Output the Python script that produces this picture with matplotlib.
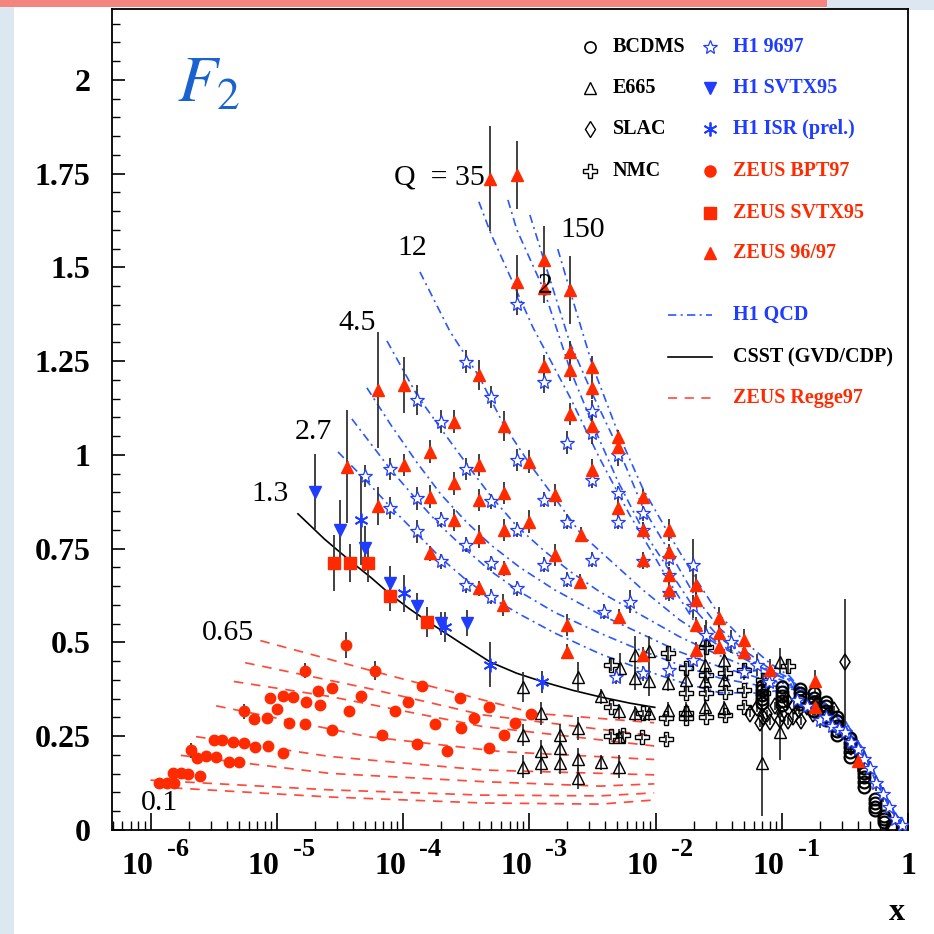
import numpy as np
import matplotlib
matplotlib.use("Agg")
import matplotlib.pyplot as plt
from matplotlib.lines import Line2D
from matplotlib.patches import Rectangle
import matplotlib.transforms as mtransforms
from matplotlib.ticker import LogLocator, MultipleLocator, NullFormatter

plt.rcParams['mathtext.fontset'] = 'stix'
SERIF = "Liberation Serif"
RED = "#ff2a00"
REGGE = "#ff4a3a"
BLUE = "#1f3cff"
QCDBLUE = "#2a56ff"
F2BLUE = "#1a62d0"
EBAR = "#333333"

# ---------------- data (x given as log10(x)) ----------------
# ZEUS BPT97 (red dots)
BPT_LX = [-5.93, -5.87, -5.81,
          -5.82, -5.76, -5.70, -5.61,
          -5.68,
          -5.63, -5.56, -5.48, -5.38, -5.30,
          -5.50, -5.43, -5.35, -5.26, -5.17, -5.07, -4.95,
          -5.26, -5.18, -5.08, -5.00, -4.90, -4.78, -4.56, -4.17, -3.89, -3.65, -3.32,
          -5.05, -4.95, -4.87, -4.77, -4.66, -4.43, -4.06, -3.75, -3.54, -3.20,
          -4.78, -4.67, -4.56, -4.33, -3.96, -3.55, -3.44, -3.32, -3.11, -2.99,
          -4.45, -4.22, -3.85]
BPT_Y = [0.124, 0.124, 0.124,
         0.153, 0.153, 0.150, 0.144,
         0.213,
         0.191, 0.196, 0.195, 0.182, 0.180,
         0.240, 0.239, 0.235, 0.231, 0.222, 0.225, 0.204,
         0.317, 0.297, 0.298, 0.322, 0.284, 0.283, 0.267, 0.253, 0.230, 0.211, 0.218,
         0.351, 0.356, 0.354, 0.342, 0.333, 0.318, 0.317, 0.282, 0.273, 0.253,
         0.424, 0.371, 0.378, 0.356, 0.341, 0.351, 0.298, 0.329, 0.284, 0.308,
         0.493, 0.425, 0.384]
BPT_ERR = [0.005, 0.005, 0.005,
           0.005, 0.005, 0.005, 0.005,
           0.020,
           0.006, 0.006, 0.006, 0.006, 0.006,
           0.006, 0.006, 0.006, 0.006, 0.006, 0.006, 0.008,
           0.020, 0.006, 0.006, 0.012, 0.006, 0.006, 0.008, 0.008, 0.008, 0.008, 0.008,
           0.012, 0.012, 0.008, 0.008, 0.010, 0.008, 0.008, 0.008, 0.008, 0.008,
           0.020, 0.010, 0.010, 0.010, 0.010, 0.010, 0.010, 0.010, 0.010, 0.010,
           0.035, 0.025, 0.012]

# ZEUS SVTX95 (red squares)
ZSVTX_LX = [-4.55, -4.42, -4.28, -4.10, -3.81]
ZSVTX_Y = [0.712, 0.712, 0.712, 0.624, 0.555]
ZSVTX_ERR = [0.075, 0.05, 0.05, 0.04, 0.04]

# H1 SVTX95 (blue down triangles)
HSVTX_LX = [-4.70, -4.50, -4.30, -4.10, -3.89, -3.70, -3.49]
HSVTX_Y = [0.902, 0.800, 0.751, 0.658, 0.596, 0.551, 0.551]
HSVTX_ERR = [0.10, 0.08, 0.06, 0.045, 0.035, 0.03, 0.035]

# H1 ISR prel. (blue asterisks)
HISR_LX = [-4.33, -3.99, -3.67, -3.31, -2.90]
HISR_Y = [0.827, 0.631, 0.542, 0.440, 0.395]
HISR_ERR = [0.12, 0.05, 0.04, 0.06, 0.03]

# ZEUS 96/97 (red triangles)
Z97_LX = [-3.31, -3.10, -2.88, -3.10, -2.88, -2.68, -2.68, -2.68, -2.50, -2.50,
          -2.88, -2.68, -2.50, -2.30, -2.30, -2.50, -2.30, -2.10, -2.10, -1.89,
          -1.89, -1.89, -1.89, -2.10, -3.40, -3.20, -3.00, -2.80, -2.59, -2.60,
          -2.80, -3.00, -3.20, -3.20, -3.20, -3.40, -3.40, -3.40, -3.40, -3.60,
          -3.60, -3.60, -3.79, -3.79, -3.79, -3.99, -3.99, -4.20, -4.20, -4.44,
          -3.21, -2.70, -2.70, -2.29, -2.10, -1.68, -1.68, -1.68, -1.68, -1.50,
          -1.50, -1.50, -1.30, -1.30, -1.09, -0.74, -0.74, -0.40]
Z97_Y = [1.737, 1.747, 1.520, 1.462, 1.444, 1.440, 1.275, 1.227, 1.235, 1.178,
         1.237, 1.109, 1.076, 1.047, 1.022, 0.960, 0.858, 0.889, 0.800, 0.800,
         0.742, 0.680, 0.640, 0.720, 1.213, 1.076, 0.982, 0.893, 0.787, 0.662,
         0.733, 0.822, 0.898, 0.800, 0.698, 0.973, 0.880, 0.782, 0.645, 1.089,
         0.924, 0.827, 1.009, 0.889, 0.738, 1.187, 0.973, 1.173, 0.864, 0.969,
         0.600, 0.547, 0.475, 0.569, 0.467, 0.653, 0.613, 0.547, 0.480, 0.564,
         0.526, 0.489, 0.507, 0.475, 0.427, 0.396, 0.329, 0.185]
Z97_ERR = [0.14, 0.09, 0.09, 0.07, 0.04, 0.09, 0.03, 0.03, 0.03, 0.03,
           0.03, 0.03, 0.03, 0.02, 0.02, 0.03, 0.02, 0.02, 0.02, 0.03,
           0.02, 0.02, 0.02, 0.02, 0.04, 0.04, 0.03, 0.03, 0.02, 0.02,
           0.03, 0.03, 0.03, 0.03, 0.02, 0.03, 0.03, 0.03, 0.02, 0.03,
           0.03, 0.03, 0.03, 0.03, 0.02, 0.075, 0.03, 0.155, 0.05, 0.15,
           0.03, 0.03, 0.02, 0.02, 0.02, 0.03, 0.03, 0.02, 0.02, 0.03,
           0.02, 0.02, 0.03, 0.02, 0.03, 0.03, 0.03, 0.03]

# H1 9697 (blue open stars)
H1_LX = [-3.10, -3.50, -3.30, -2.88, -2.70, -2.50, -2.50, -2.30, -2.50, -2.30,
         -2.10, -2.30, -2.10, -2.10, -1.89, -1.89, -1.89, -3.89, -3.70, -3.10,
         -3.50, -2.88, -2.70, -2.50, -2.70, -2.88, -3.10, -3.10, -3.30, -3.30,
         -3.30, -3.50, -3.50, -3.70, -3.70, -3.89, -3.89, -4.10, -4.10, -4.30,
         -1.70, -1.70, -1.70, -2.20, -2.41, -2.31, -2.10, -1.89, -1.60, -1.40,
         -1.20, -1.09, -0.88, -0.80, -0.70, -0.65, -0.60, -0.55, -0.50, -0.45,
         -0.40, -0.35, -0.30, -0.25, -0.20, -0.15, -0.10, -0.05, -1.30, -1.10]
H1_Y = [1.403, 1.249, 1.154, 1.194, 1.033, 1.116, 1.058, 1.000, 0.933, 0.898,
        0.844, 0.822, 0.800, 0.716, 0.724, 0.680, 0.631, 1.147, 1.089, 0.987,
        0.962, 0.880, 0.822, 0.720, 0.667, 0.707, 0.800, 0.645, 0.876, 0.711,
        0.622, 0.760, 0.653, 0.827, 0.716, 0.884, 0.796, 0.962, 0.858, 0.944,
        0.707, 0.596, 0.453, 0.609, 0.582, 0.409, 0.418, 0.427, 0.520, 0.502,
        0.440, 0.409, 0.347, 0.330, 0.293, 0.300, 0.276, 0.270, 0.262, 0.235,
        0.215, 0.190, 0.165, 0.125, 0.095, 0.060, 0.030, 0.012, 0.420, 0.395]
H1_ERR = [0.03, 0.03, 0.03, 0.03, 0.03, 0.03, 0.03, 0.03, 0.02, 0.02,
          0.02, 0.02, 0.02, 0.02, 0.02, 0.02, 0.02, 0.04, 0.03, 0.03,
          0.03, 0.02, 0.02, 0.02, 0.02, 0.02, 0.02, 0.02, 0.02, 0.02,
          0.02, 0.02, 0.02, 0.02, 0.02, 0.03, 0.03, 0.03, 0.03, 0.03,
          0.07, 0.03, 0.02, 0.03, 0.02, 0.02, 0.02, 0.02, 0.04, 0.03,
          0.03, 0.03, 0.02, 0.02, 0.02, 0.02, 0.02, 0.02, 0.02, 0.02,
          0.02, 0.02, 0.02, 0.02, 0.02, 0.01, 0.01, 0.01, 0.02, 0.02]

# E665 (open triangles)
E665_LX = [-3.05, -3.05, -3.05, -2.91, -2.91, -2.91, -2.76, -2.76, -2.76, -2.61,
           -2.61, -2.61, -2.61, -2.43, -2.43, -2.29, -2.29, -2.29, -2.16, -2.16,
           -2.16, -2.05, -2.05, -2.05, -2.28, -1.90, -1.90, -1.76, -1.76, -1.61,
           -1.61, -1.61, -1.61, -1.46, -1.46, -1.46, -1.16, -1.01, -1.01]
E665_Y = [0.382, 0.253, 0.169, 0.311, 0.211, 0.178, 0.253, 0.218, 0.178, 0.409,
          0.271, 0.188, 0.138, 0.356, 0.180, 0.316, 0.249, 0.169, 0.467, 0.404,
          0.311, 0.476, 0.396, 0.311, 0.431, 0.391, 0.320, 0.400, 0.320, 0.507,
          0.440, 0.396, 0.329, 0.453, 0.400, 0.324, 0.178, 0.449, 0.262]
E665_ERR_LO = [0.04, 0.03, 0.03, 0.03, 0.03, 0.03, 0.03, 0.03, 0.03, 0.04,
               0.03, 0.03, 0.03, 0.02, 0.02, 0.02, 0.02, 0.03, 0.05, 0.03,
               0.02, 0.04, 0.04, 0.02, 0.04, 0.02, 0.02, 0.03, 0.02, 0.04,
               0.04, 0.03, 0.02, 0.03, 0.03, 0.02, 0.14, 0.03, 0.075]
E665_ERR_HI = [0.04, 0.03, 0.03, 0.03, 0.03, 0.03, 0.03, 0.03, 0.03, 0.04,
               0.03, 0.03, 0.03, 0.02, 0.02, 0.02, 0.02, 0.03, 0.05, 0.03,
               0.02, 0.04, 0.04, 0.02, 0.04, 0.02, 0.02, 0.03, 0.02, 0.04,
               0.04, 0.03, 0.02, 0.03, 0.03, 0.02, 0.20, 0.035, 0.07]

# NMC (open crosses)
NMC_LX = [-2.35, -2.35, -2.26, -2.11, -2.10, -1.92, -1.92, -1.90, -1.76, -1.76,
          -1.76, -1.76, -1.60, -1.60, -1.60, -1.60, -1.45, -1.45, -1.45, -1.30,
          -1.30, -1.30, -1.15, -1.15, -0.95, -2.35]
NMC_Y = [0.440, 0.329, 0.253, 0.249, 0.311, 0.298, 0.242, 0.471, 0.298, 0.431,
         0.364, 0.311, 0.489, 0.413, 0.364, 0.302, 0.418, 0.369, 0.307, 0.427,
         0.373, 0.329, 0.400, 0.364, 0.436, 0.251]
NMC_ERR = [0.015, 0.01, 0.01, 0.01, 0.01, 0.01, 0.01, 0.02, 0.01, 0.015,
           0.01, 0.01, 0.02, 0.015, 0.01, 0.01, 0.015, 0.01, 0.01, 0.015,
           0.01, 0.01, 0.015, 0.01, 0.02, 0.01]

# SLAC (open diamonds)
SLAC_LX = [-1.25, -1.20, -1.17, -1.15, -1.12, -1.09, -1.05, -1.01, -1.00, -0.96,
           -0.95, -0.91, -0.90, -0.86, -0.85, -0.80, -0.75, -0.72, -0.65, -0.59,
           -0.55, -0.45, -0.50]
SLAC_Y = [0.310, 0.324, 0.284, 0.300, 0.310, 0.289, 0.330, 0.293, 0.310, 0.347,
          0.290, 0.302, 0.330, 0.320, 0.290, 0.329, 0.310, 0.338, 0.300, 0.320,
          0.270, 0.220, 0.449]
SLAC_ERR = [0.01, 0.01, 0.01, 0.01, 0.01, 0.01, 0.01, 0.01, 0.01, 0.01,
            0.01, 0.01, 0.01, 0.01, 0.01, 0.01, 0.01, 0.01, 0.01, 0.01,
            0.01, 0.01, 0.167]

# BCDMS (open circles), columns of several Q^2 values at each x
BCDMS_LX = [-1.155, -1.155, -1.155, -1.155, -1.155,
            -1.000, -1.000, -1.000, -1.000, -1.000,
            -0.854, -0.854, -0.854, -0.854, -0.854,
            -0.745, -0.745, -0.745, -0.745, -0.745,
            -0.648, -0.648, -0.648, -0.648, -0.648,
            -0.561, -0.561, -0.561, -0.561, -0.561,
            -0.456, -0.456, -0.456, -0.456, -0.456,
            -0.347, -0.347, -0.347, -0.347, -0.347,
            -0.260, -0.260, -0.260, -0.260,
            -0.187, -0.187, -0.187,
            -0.125, -0.125]
BCDMS_Y = [0.385, 0.372, 0.360, 0.348, 0.338,
           0.380, 0.368, 0.356, 0.344, 0.333,
           0.375, 0.365, 0.355, 0.345, 0.335,
           0.365, 0.352, 0.340, 0.328, 0.316,
           0.342, 0.330, 0.318, 0.305, 0.293,
           0.302, 0.290, 0.277, 0.265, 0.253,
           0.245, 0.232, 0.220, 0.207, 0.195,
           0.165, 0.152, 0.140, 0.127, 0.115,
           0.082, 0.072, 0.062, 0.053,
           0.036, 0.028, 0.020,
           0.010, 0.006]

# CSST (GVD/CDP), Q^2 = 1.3
CSST_LX = [-4.832, -4.62, -4.42, -4.25, -4.10, -3.95, -3.79, -3.55, -3.31, -3.10,
           -2.90, -2.65, -2.44, -2.20, -2.006]
CSST_Y = [0.843, 0.775, 0.718, 0.672, 0.628, 0.590, 0.553, 0.500, 0.448, 0.418,
          0.396, 0.372, 0.355, 0.338, 0.327]

# H1 QCD curves (dash-dot)
QCD1_LX = [-4.515, -4.302, -4.096, -3.890, -3.700, -3.494, -3.304, -3.074, -2.797, -2.441, -2.124, -1.808, -1.491, -1.174, -0.937]
QCD1_Y = [1.008, 0.935, 0.860, 0.790, 0.725, 0.665, 0.620, 0.575, 0.525, 0.470, 0.430, 0.395, 0.366, 0.365, 0.376]
QCD2_LX = [-4.405, -4.096, -3.890, -3.700, -3.494, -3.304, -3.074, -2.797, -2.441, -2.124, -1.808, -1.491, -1.174, -0.937]
QCD2_Y = [1.096, 0.960, 0.880, 0.810, 0.745, 0.690, 0.635, 0.580, 0.525, 0.480, 0.440, 0.405, 0.385, 0.382]
QCD3_LX = [-4.286, -4.096, -3.890, -3.700, -3.494, -3.304, -3.074, -2.797, -2.441, -2.124, -1.808, -1.491, -1.174, -0.937]
QCD3_Y = [1.179, 1.080, 0.980, 0.895, 0.820, 0.760, 0.700, 0.640, 0.575, 0.525, 0.475, 0.435, 0.405, 0.387]
QCD4_LX = [-4.127, -3.890, -3.700, -3.494, -3.304, -3.098, -2.884, -2.679, -2.441, -2.124, -1.808, -1.491, -1.174, -0.937]
QCD4_Y = [1.304, 1.160, 1.070, 0.975, 0.890, 0.810, 0.745, 0.690, 0.635, 0.575, 0.515, 0.465, 0.420, 0.392]
QCD5_LX = [-3.866, -3.629, -3.399, -3.201, -2.995, -2.797, -2.592, -2.362, -2.100, -1.808, -1.491, -1.174, -0.937]
QCD5_Y = [1.488, 1.330, 1.210, 1.080, 0.975, 0.885, 0.790, 0.720, 0.640, 0.560, 0.490, 0.435, 0.397]
QCD6_LX = [-3.399, -3.304, -3.130, -2.971, -2.679, -2.441, -2.204, -2.045, -1.887, -1.681, -1.499, -1.301, -1.095, -0.937]
QCD6_Y = [1.675, 1.590, 1.460, 1.340, 1.155, 0.990, 0.840, 0.750, 0.660, 0.550, 0.495, 0.462, 0.420, 0.400]
QCD7_LX = [-3.169, -3.098, -2.884, -2.679, -2.496, -2.298, -2.100, -1.887, -1.681, -1.499, -1.301, -1.095, -0.937]
QCD7_Y = [1.680, 1.600, 1.440, 1.230, 1.080, 0.930, 0.800, 0.690, 0.585, 0.515, 0.465, 0.425, 0.403]
QCD8_LX = [-2.995, -2.884, -2.679, -2.496, -2.298, -2.100, -1.887, -1.681, -1.499, -1.301, -1.095, -0.937]
QCD8_Y = [1.640, 1.520, 1.300, 1.160, 1.020, 0.860, 0.740, 0.620, 0.540, 0.480, 0.430, 0.405]
QCD9_LX = [-2.774, -2.679, -2.496, -2.298, -2.100, -1.887, -1.681, -1.499, -1.301, -1.095, -0.937]
QCD9_Y = [1.549, 1.440, 1.235, 1.060, 0.910, 0.785, 0.670, 0.575, 0.505, 0.445, 0.410]
QCD_TAIL_LX = [-0.857, -0.699, -0.501, -0.351, -0.200, -0.105, -0.018]
QCD_TAIL_LO_Y = [0.372, 0.350, 0.292, 0.212, 0.106, 0.046, 0.005]
QCD_TAIL_HI_Y = [0.378, 0.345, 0.280, 0.196, 0.094, 0.038, 0.003]

# ZEUS Regge97 curves (dashed)
REG1_LX = [-5.13, -4.22, -3.37, -2.95, -2.01]
REG1_Y = [0.505, 0.422, 0.347, 0.311, 0.286]
REG2_LX = [-5.25, -4.28, -3.37, -2.01]
REG2_Y = [0.446, 0.378, 0.307, 0.251]
REG3_LX = [-5.34, -4.58, -3.37, -2.01]
REG3_Y = [0.396, 0.356, 0.276, 0.224]
REG4_LX = [-5.48, -4.28, -3.22, -2.01]
REG4_Y = [0.331, 0.249, 0.209, 0.188]
REG5_LX = [-5.64, -4.58, -3.37, -2.01]
REG5_Y = [0.249, 0.196, 0.160, 0.147]
REG6_LX = [-5.76, -4.58, -3.37, -2.44, -2.01]
REG6_Y = [0.199, 0.151, 0.129, 0.117, 0.123]
REG7_LX = [-6.00, -4.58, -3.37, -2.44, -2.01]
REG7_Y = [0.133, 0.107, 0.093, 0.091, 0.099]
REG8_LX = [-5.96, -4.58, -3.37, -2.44, -2.01]
REG8_Y = [0.115, 0.088, 0.072, 0.069, 0.080]

# curve labels (Q^2 values)
QLABELS = ["Q  = 35", "150", "12", "4.5", "2.7", "1.3", "0.65", "0.1", "2"]
QLABEL_LX = [-3.71, -2.58, -3.93, -4.36, -4.71, -5.05, -5.39, -5.93, -2.87]
QLABEL_Y = [1.741, 1.600, 1.552, 1.352, 1.061, 0.896, 0.525, 0.072, 1.451]

YTICKS = [0, 0.25, 0.5, 0.75, 1, 1.25, 1.5, 1.75, 2]
YTICK_LABELS = ["0", "0.25", "0.5", "0.75", "1", "1.25", "1.5", "1.75", "2"]
XTICK_EXP = [-6, -5, -4, -3, -2, -1]

# ---------------- figure ----------------
W = 934.0
fig = plt.figure(figsize=(9.34, 9.34), dpi=100)
fig.patch.set_facecolor("white")

# decorative background strips
fig.add_artist(Rectangle((0, 0), 14 / W, 1, transform=fig.transFigure,
                         facecolor="#dde7f1", edgecolor="none", zorder=0))
fig.add_artist(Rectangle((0, 1 - 7 / W), 827 / W, 7 / W, transform=fig.transFigure,
                         facecolor="#f4847e", edgecolor="none", zorder=0))
fig.add_artist(Rectangle((827 / W, 1 - 10 / W), 107 / W, 10 / W, transform=fig.transFigure,
                         facecolor="#dde7f1", edgecolor="none", zorder=0))

ax = fig.add_axes([112 / W, 104 / W, 796 / W, 821 / W])
ax.set_xscale("log")
ax.set_xlim(10 ** -6.305, 1.0)
ax.set_ylim(0, 2.189)
for s in ax.spines.values():
    s.set_linewidth(1.3)

def X(lst):
    return 10.0 ** np.asarray(lst, dtype=float)

# Regge curves
for lx, yy in [(REG1_LX, REG1_Y), (REG2_LX, REG2_Y), (REG3_LX, REG3_Y), (REG4_LX, REG4_Y),
               (REG5_LX, REG5_Y), (REG6_LX, REG6_Y), (REG7_LX, REG7_Y), (REG8_LX, REG8_Y)]:
    ax.plot(X(lx), yy, color=REGGE, lw=1.25, ls=(0, (5.5, 4.5)), zorder=2)

# H1 QCD curves
qcd = [(QCD1_LX, QCD1_Y, QCD_TAIL_LO_Y), (QCD2_LX, QCD2_Y, QCD_TAIL_LO_Y),
       (QCD3_LX, QCD3_Y, QCD_TAIL_LO_Y), (QCD4_LX, QCD4_Y, QCD_TAIL_LO_Y),
       (QCD5_LX, QCD5_Y, QCD_TAIL_LO_Y), (QCD6_LX, QCD6_Y, QCD_TAIL_HI_Y),
       (QCD7_LX, QCD7_Y, QCD_TAIL_HI_Y), (QCD8_LX, QCD8_Y, QCD_TAIL_HI_Y),
       (QCD9_LX, QCD9_Y, QCD_TAIL_HI_Y)]
for lx, yy, tail in qcd:
    ax.plot(X(list(lx) + QCD_TAIL_LX), list(yy) + tail, color=QCDBLUE, lw=1.2,
            ls=(0, (5, 2.6, 1.2, 2.6)), zorder=2)

# CSST
ax.plot(X(CSST_LX), CSST_Y, color="black", lw=1.2, zorder=2)

def ebars(lx, yy, err):
    ax.errorbar(X(lx), yy, yerr=err, fmt="none", ecolor=EBAR, elinewidth=1.3,
                capsize=0, zorder=2.5)

ebars(BPT_LX, BPT_Y, BPT_ERR)
ebars(ZSVTX_LX, ZSVTX_Y, ZSVTX_ERR)
ebars(HSVTX_LX, HSVTX_Y, HSVTX_ERR)
ebars(HISR_LX, HISR_Y, HISR_ERR)
ebars(Z97_LX, Z97_Y, Z97_ERR)
ebars(H1_LX, H1_Y, H1_ERR)
ebars(E665_LX, E665_Y, [E665_ERR_LO, E665_ERR_HI])
ebars(NMC_LX, NMC_Y, NMC_ERR)
ebars(SLAC_LX, SLAC_Y, SLAC_ERR)

# black fixed-target data
ax.plot(X(BCDMS_LX), BCDMS_Y, ls="none", marker="o", ms=8.5, mfc="none", mec="black", mew=1.6, zorder=3)
ax.plot(X(SLAC_LX), SLAC_Y, ls="none", marker="d", ms=8, mfc="none", mec="black", mew=1.1, zorder=3)
ax.plot(X(NMC_LX), NMC_Y, ls="none", marker="P", ms=9.5, mfc="none", mec="black", mew=1.0, zorder=3)
ax.plot(X(E665_LX), E665_Y, ls="none", marker="^", ms=9, mfc="none", mec="black", mew=1.0, zorder=3)

# H1
ax.plot(X(H1_LX), H1_Y, ls="none", marker="*", ms=10, mfc="white", mec=BLUE, mew=0.9, zorder=3.2)
ax.plot(X(HSVTX_LX), HSVTX_Y, ls="none", marker="v", ms=8, color=BLUE, zorder=3.3)
ax.plot(X(HISR_LX), HISR_Y, ls="none", marker=(6, 2, 0), ms=10, mec=BLUE, mew=1.3, zorder=3.3)

# ZEUS
ax.plot(X(Z97_LX), Z97_Y, ls="none", marker="^", ms=8.5, color=RED, mec=RED, zorder=3.4)
ax.plot(X(ZSVTX_LX), ZSVTX_Y, ls="none", marker="s", ms=8, color=RED, mec=RED, zorder=3.4)
ax.plot(X(BPT_LX), BPT_Y, ls="none", marker="o", ms=7.5, color=RED, mec=RED, zorder=3.4)

# ---------------- ticks ----------------
ax.xaxis.set_major_locator(LogLocator(base=10, numticks=20))
ax.xaxis.set_minor_locator(LogLocator(base=10, subs=np.arange(2, 10), numticks=200))
ax.xaxis.set_major_formatter(NullFormatter())
ax.xaxis.set_minor_formatter(NullFormatter())
ax.tick_params(axis="x", which="major", direction="in", length=12, width=1.2,
               bottom=True, top=False)
ax.tick_params(axis="x", which="minor", direction="in", length=6.5, width=1.0,
               bottom=True, top=False)

ax.set_yticks(YTICKS, labels=YTICK_LABELS)
ax.yaxis.set_minor_locator(MultipleLocator(0.05))
ax.tick_params(axis="y", which="major", direction="in", length=9.5, width=1.2,
               left=True, right=False, pad=15.5)
ax.tick_params(axis="y", which="minor", direction="in", length=5.5, width=1.0,
               left=True, right=False)
for lab in ax.get_yticklabels():
    lab.set_fontfamily(SERIF)
    lab.set_fontweight("bold")
    lab.set_fontsize(23)

def offs(dx, dy):
    return mtransforms.ScaledTranslation(dx / 100.0, dy / 100.0, fig.dpi_scale_trans)

base = mtransforms.blended_transform_factory(ax.transData, ax.transAxes)
for k in XTICK_EXP:
    ax.text(10.0 ** k, 0, "10", transform=base + offs(-13, -37), ha="center", va="center",
            fontsize=23, fontweight="bold", family=SERIF, clip_on=False)
    ax.text(10.0 ** k, 0, "-%d" % abs(k), transform=base + offs(27, -20), ha="center",
            va="center", fontsize=19, fontweight="bold", family=SERIF, clip_on=False)
ax.text(1.0, 0, "1", transform=base + offs(0, -37), ha="center", va="center",
        fontsize=23, fontweight="bold", family=SERIF, clip_on=False)
fig.text(897 / W, 1 - 912 / W, "x", ha="center", va="center", fontsize=23,
         fontweight="bold", family=SERIF)

# ---------------- labels ----------------
for txt, lx, yy in zip(QLABELS, QLABEL_LX, QLABEL_Y):
    ax.text(10.0 ** lx, yy, txt, ha="center", va="center", fontsize=21.5, family=SERIF, zorder=5)

ax.text(10.0 ** -5.79, 1.944, r"$F_2$", ha="left", va="baseline", fontsize=47,
        color=F2BLUE, zorder=5)

# ---------------- legend (manual) ----------------
def fxy(px, py):
    return px / W, 1 - py / W

def leg_marker(px, py, **kw):
    fx, fy = fxy(px, py)
    fig.add_artist(Line2D([fx], [fy], transform=fig.transFigure, ls="none", **kw))

def leg_text(px, py, txt, color):
    fx, fy = fxy(px, py)
    fig.text(fx, fy, txt, ha="left", va="center", fontsize=14.5, fontweight="bold",
             family=SERIF, color=color)

rows = [47, 88, 129, 171, 213, 253]
leg_marker(590, rows[0], marker="o", ms=8, mfc="none", mec="black", mew=1.2)
leg_text(613, rows[0], "BCDMS", "black")
leg_marker(590, rows[1], marker="^", ms=9, mfc="none", mec="black", mew=1.0)
leg_text(613, rows[1], "E665", "black")
leg_marker(590, rows[2], marker="d", ms=8, mfc="none", mec="black", mew=1.0)
leg_text(613, rows[2], "SLAC", "black")
leg_marker(590, rows[3], marker="P", ms=9.5, mfc="none", mec="black", mew=1.0)
leg_text(613, rows[3], "NMC", "black")

leg_marker(710, rows[0], marker="*", ms=10, mfc="none", mec=BLUE, mew=0.9)
leg_text(733, rows[0], "H1 9697", BLUE)
leg_marker(710, rows[1], marker="v", ms=8, color=BLUE)
leg_text(733, rows[1], "H1 SVTX95", BLUE)
leg_marker(710, rows[2], marker=(6, 2, 0), ms=10, mec=BLUE, mew=1.3)
leg_text(733, rows[2], "H1 ISR (prel.)", BLUE)
leg_marker(710, rows[3], marker="o", ms=8, color=RED)
leg_text(733, rows[3], "ZEUS BPT97", RED)
leg_marker(710, rows[4], marker="s", ms=8, color=RED)
leg_text(733, rows[4], "ZEUS SVTX95", RED)
leg_marker(710, rows[5], marker="^", ms=8.5, color=RED)
leg_text(733, rows[5], "ZEUS 96/97", RED)

line_rows = [315, 357, 398]
for py, col, ls in [(line_rows[0], QCDBLUE, (0, (5, 2.6, 1.2, 2.6))),
                    (line_rows[1], "black", "-"),
                    (line_rows[2], REGGE, (0, (5.5, 4.5)))]:
    fx0, fy = fxy(668, py)
    fx1, _ = fxy(712, py)
    fig.add_artist(Line2D([fx0, fx1], [fy, fy], transform=fig.transFigure, color=col,
                          lw=1.2, ls=ls))
leg_text(733, line_rows[0], "H1 QCD", BLUE)
leg_text(733, line_rows[1], "CSST (GVD/CDP)", "black")
leg_text(733, line_rows[2], "ZEUS Regge97", RED)

fig.savefig("out.png", dpi=100, facecolor=fig.get_facecolor())
